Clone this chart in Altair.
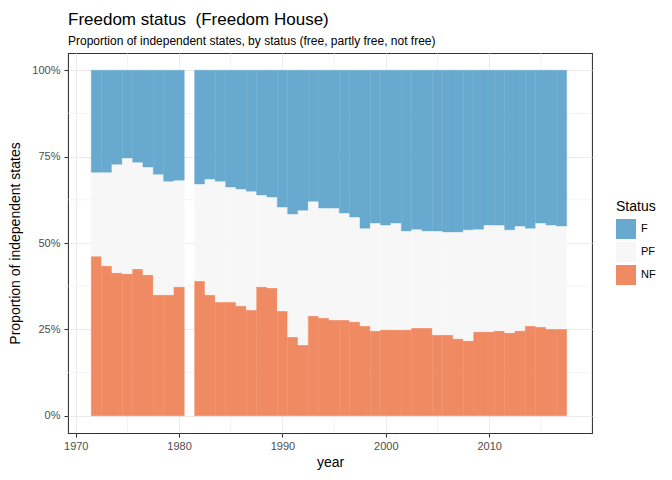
import altair as alt
import pandas as pd

years = [1972, 1973, 1974, 1975, 1976, 1977, 1978, 1979, 1980,
         1982, 1983, 1984, 1985, 1986, 1987, 1988, 1989, 1990, 1991,
         1992, 1993, 1994, 1995, 1996, 1997, 1998, 1999, 2000, 2001,
         2002, 2003, 2004, 2005, 2006, 2007, 2008, 2009, 2010, 2011,
         2012, 2013, 2014, 2015, 2016, 2017]
nf = [0.462, 0.434, 0.414, 0.411, 0.425, 0.408, 0.350, 0.350, 0.373,
      0.390, 0.350, 0.329, 0.329, 0.318, 0.306, 0.373, 0.370, 0.303, 0.228,
      0.205, 0.289, 0.283, 0.277, 0.277, 0.272, 0.260, 0.246, 0.249, 0.249,
      0.249, 0.254, 0.254, 0.234, 0.234, 0.223, 0.217, 0.243, 0.243, 0.246,
      0.240, 0.246, 0.260, 0.257, 0.251, 0.251]
pf = [0.243, 0.271, 0.314, 0.335, 0.309, 0.312, 0.349, 0.329, 0.309,
      0.281, 0.335, 0.350, 0.333, 0.338, 0.344, 0.266, 0.263, 0.301, 0.356,
      0.390, 0.332, 0.318, 0.324, 0.310, 0.303, 0.283, 0.312, 0.303, 0.309,
      0.286, 0.286, 0.281, 0.301, 0.298, 0.309, 0.321, 0.297, 0.309, 0.306,
      0.298, 0.303, 0.283, 0.301, 0.301, 0.298]
f = [0.295, 0.295, 0.272, 0.254, 0.266, 0.280, 0.301, 0.321, 0.318,
     0.329, 0.315, 0.321, 0.338, 0.344, 0.350, 0.361, 0.367, 0.396, 0.416,
     0.405, 0.379, 0.399, 0.399, 0.413, 0.425, 0.457, 0.442, 0.448, 0.442,
     0.465, 0.460, 0.465, 0.465, 0.468, 0.468, 0.462, 0.460, 0.448, 0.448,
     0.462, 0.451, 0.457, 0.442, 0.448, 0.451]

statuses = ["F", "PF", "NF"]
colors = ["#67A9CF", "#F7F7F7", "#EF8A62"]
x_ticks = [1970, 1980, 1990, 2000, 2010]
y_ticks = [0, 0.25, 0.5, 0.75, 1.0]
minor_x = [1975, 1985, 1995, 2005, 2015]
minor_y = [0.125, 0.375, 0.625, 0.875]

rows = []
for yr, a, b, c in zip(years, nf, pf, f):
    rows.append(dict(year=yr, status="NF", value=a, ord=0))
    rows.append(dict(year=yr, status="PF", value=b, ord=1))
    rows.append(dict(year=yr, status="F", value=c, ord=2))
df = pd.DataFrame(rows)

FONT = "Liberation Sans"
x_scale = alt.Scale(domain=[1969.25, 2019.95], nice=False, zero=False)
y_scale = alt.Scale(domain=[-0.05, 1.05], nice=False, zero=False)

x_axis = alt.Axis(values=x_ticks, format="d", grid=True, gridColor="#EBEBEB",
                  gridWidth=1.07, domain=False, tickColor="#333333", tickSize=4,
                  tickWidth=1.07, labelColor="#4D4D4D", labelFontSize=11,
                  labelPadding=3, labelFont=FONT, titleFont=FONT, titleFontSize=14,
                  titleColor="#000000", titleFontWeight="normal", titlePadding=4)
y_axis = alt.Axis(values=y_ticks, format=".0%", grid=True, gridColor="#EBEBEB",
                  gridWidth=1.07, domain=False, tickColor="#333333", tickSize=4,
                  tickWidth=1.07, labelColor="#4D4D4D", labelFontSize=11,
                  labelPadding=4, labelFont=FONT, titleFont=FONT, titleFontSize=14,
                  titleColor="#000000", titleFontWeight="normal", titlePadding=9)

XT = "year"
YT = "Proportion of independent states"

grid_x = alt.Chart(pd.DataFrame({"x0": minor_x})).mark_rule(
    color="#EBEBEB", strokeWidth=0.53
).encode(x=alt.X("x0:Q", scale=x_scale, axis=x_axis, title=XT))

grid_y = alt.Chart(pd.DataFrame({"y0": minor_y})).mark_rule(
    color="#EBEBEB", strokeWidth=0.53
).encode(y=alt.Y("y0:Q", scale=y_scale, axis=y_axis, title=YT))

bars = alt.Chart(df).transform_stack(
    stack="value", groupby=["year"], as_=["y0", "y1"],
    sort=[alt.SortField("ord", order="ascending")]
).transform_calculate(
    x0="datum.year - 0.5", x1="datum.year + 0.5"
).mark_rect().encode(
    x=alt.X("x0:Q", scale=x_scale, axis=x_axis, title=XT),
    x2="x1:Q",
    y=alt.Y("y0:Q", scale=y_scale, axis=y_axis, title=YT),
    y2="y1:Q",
    color=alt.Color("status:N",
                    scale=alt.Scale(domain=statuses, range=colors),
                    legend=alt.Legend(title="Status", orient="none", legendX=548,
                                      legendY=147, symbolType="square",
                                      symbolSize=400, symbolStrokeWidth=0,
                                      rowPadding=3, labelOffset=5, titlePadding=5,
                                      titleFontSize=14, titleFontWeight="normal",
                                      titleFont=FONT, labelFont=FONT,
                                      labelFontSize=11, labelColor="#000000",
                                      titleColor="#000000", padding=0)),
    stroke=alt.Stroke("status:N", scale=alt.Scale(domain=statuses, range=colors),
                      legend=None),
    strokeWidth=alt.value(0.4),
)

chart = alt.layer(grid_x, grid_y, bars).properties(
    width=524, height=380,
    autosize=alt.AutoSizeParams(type="none"),
    padding={"left": 60, "top": 45, "right": 72, "bottom": 39},
    title=alt.Title("Freedom status \u00a0(Freedom House)",
                    subtitle="Proportion of independent states, by status (free, partly free, not free)",
                    anchor="start", frame="group", fontSize=17, subtitleFontSize=12,
                    fontWeight="normal", font=FONT, subtitleFont=FONT,
                    color="#000000", subtitleColor="#000000", offset=5,
                    subtitlePadding=7),
).configure(background="white").configure_view(stroke="#333333", strokeWidth=1.07)

chart.save("out.html", embed_options={"renderer": "svg", "actions": False})
